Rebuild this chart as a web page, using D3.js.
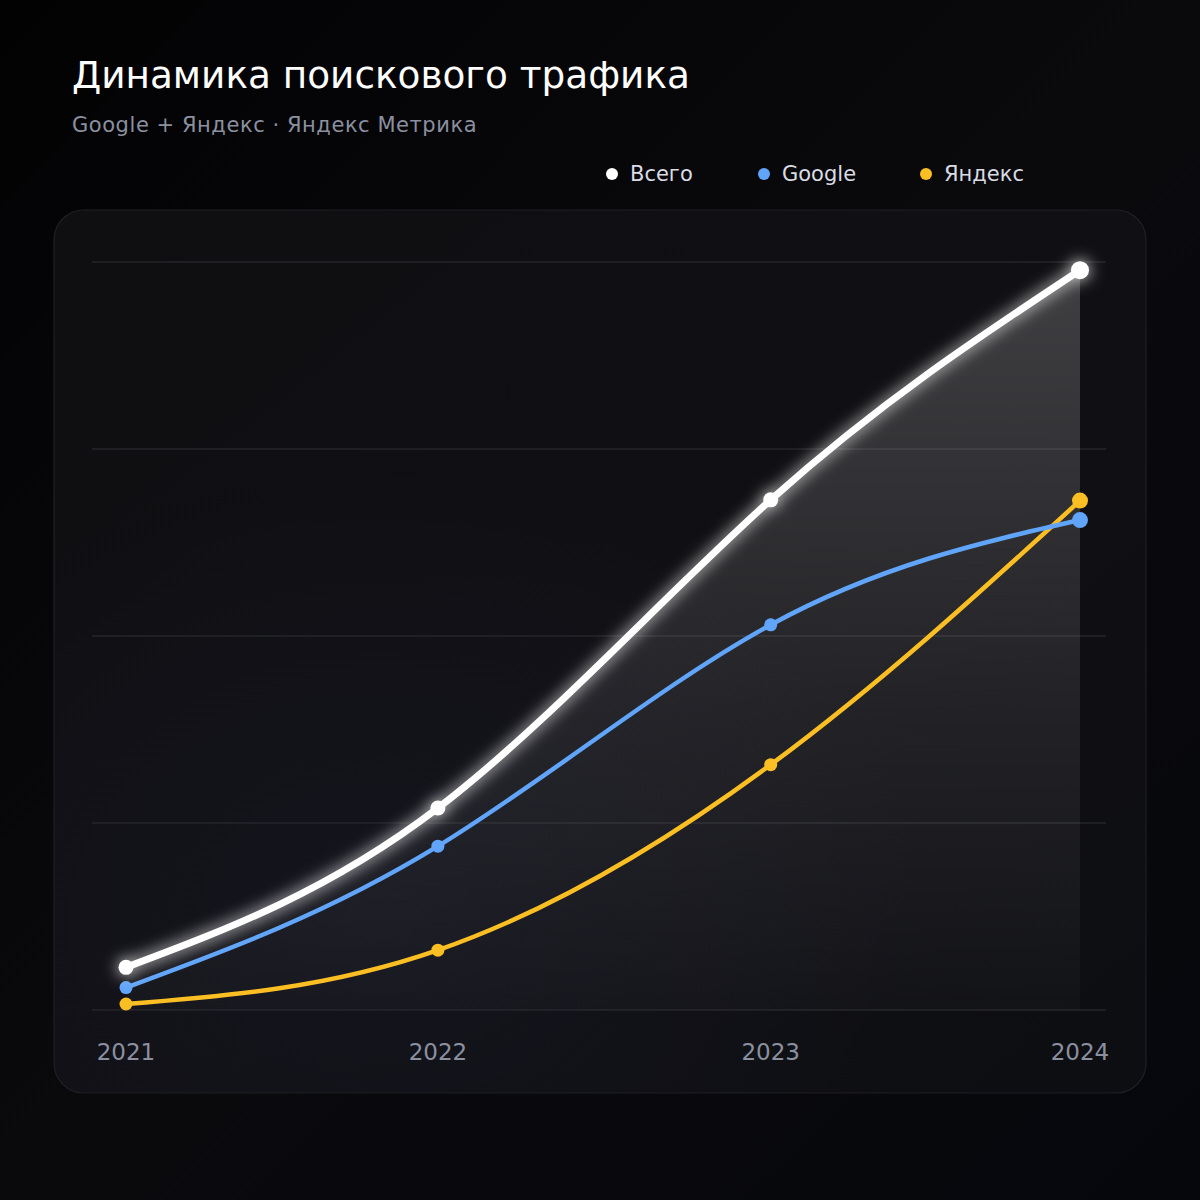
<!DOCTYPE html>
<html>
<head>
<meta charset="utf-8">
<script src="https://cdn.jsdelivr.net/npm/d3@7"></script>
<style>
  html, body { margin: 0; padding: 0; background: #050507; }
  svg { display: block; }
</style>
</head>
<body>
<div id="chart"></div>
<script>
// ---- data ----
const periods = ["2021-01-01", "2021-12-25", "2023-01-11", "2024-01-01"];
const periodLabels = ["2021", "2022", "2023", "2024"];
const totalValues = [5.7, 27.0, 68.2, 98.9];
const googleValues = [3.0, 21.9, 51.5, 65.5];
const yandexValues = [0.8, 8.0, 32.8, 68.1];
const seriesNames = ["Всего", "Google", "Яндекс"];
const yGridValues = [0, 25, 50, 75, 100];

const titleText = "Динамика поискового трафика";
const subtitleText = "Google + Яндекс · Яндекс Метрика";

// ---- setup ----
const W = 1200, H = 1200;
const font = "'DejaVu Sans', Verdana, sans-serif";
const colors = { "Всего": "#ffffff", "Google": "#60a5fa", "Яндекс": "#fbbf24" };

const svg = d3.select("#chart").append("svg")
  .attr("width", W).attr("height", H)
  .attr("viewBox", `0 0 ${W} ${H}`);

const defs = svg.append("defs");

const bg = defs.append("linearGradient").attr("id", "bg")
  .attr("x1", "0").attr("y1", "0").attr("x2", "1").attr("y2", "1");
bg.append("stop").attr("offset", "0").attr("stop-color", "#020203");
bg.append("stop").attr("offset", "0.5").attr("stop-color", "#0a0a0d");
bg.append("stop").attr("offset", "1").attr("stop-color", "#06070c");

const panelGrad = defs.append("linearGradient").attr("id", "panelGrad")
  .attr("x1", "0").attr("y1", "0").attr("x2", "1").attr("y2", "1");
panelGrad.append("stop").attr("offset", "0").attr("stop-color", "#0f0f12");
panelGrad.append("stop").attr("offset", "0.55").attr("stop-color", "#101014");
panelGrad.append("stop").attr("offset", "1").attr("stop-color", "#0d0e12");

const panelGlow = defs.append("radialGradient").attr("id", "panelGlow")
  .attr("cx", "0.3").attr("cy", "0.8").attr("r", "0.5");
panelGlow.append("stop").attr("offset", "0").attr("stop-color", "#1a1d2b").attr("stop-opacity", 0.4);
panelGlow.append("stop").attr("offset", "1").attr("stop-color", "#1a1d2b").attr("stop-opacity", 0);

const areaGrad = defs.append("linearGradient").attr("id", "areaGrad")
  .attr("gradientUnits", "userSpaceOnUse")
  .attr("x1", 0).attr("y1", 262).attr("x2", 0).attr("y2", 1010);
areaGrad.append("stop").attr("offset", "0").attr("stop-color", "#ffffff").attr("stop-opacity", 0.2);
areaGrad.append("stop").attr("offset", "0.6").attr("stop-color", "#ffffff").attr("stop-opacity", 0.08);
areaGrad.append("stop").attr("offset", "1").attr("stop-color", "#ffffff").attr("stop-opacity", 0.02);

const glow = defs.append("filter").attr("id", "glow")
  .attr("x", "-20%").attr("y", "-20%").attr("width", "140%").attr("height", "140%");
glow.append("feGaussianBlur").attr("in", "SourceGraphic").attr("stdDeviation", 8).attr("result", "b");
const merge = glow.append("feMerge");
merge.append("feMergeNode").attr("in", "b");
merge.append("feMergeNode").attr("in", "SourceGraphic");

svg.append("rect").attr("width", W).attr("height", H).attr("fill", "url(#bg)");

// Title
svg.append("text").attr("x", 72).attr("y", 88)
  .attr("font-family", font).attr("font-size", 37.4).attr("fill", "#ffffff")
  .text(titleText);
svg.append("text").attr("x", 72).attr("y", 132)
  .attr("font-family", font).attr("font-size", 21).attr("letter-spacing", 0.55)
  .attr("fill", "#8b90a0")
  .text(subtitleText);

// Legend
const legendX = [612, 764, 926];
const legend = svg.append("g");
seriesNames.forEach((name, i) => {
  legend.append("circle").attr("cx", legendX[i]).attr("cy", 174).attr("r", 6)
    .attr("fill", colors[name]);
  legend.append("text").attr("x", legendX[i] + 18).attr("y", 181)
    .attr("font-family", font).attr("font-size", 21).attr("fill", "#d9dce3")
    .text(name);
});

// Panel
svg.append("rect").attr("x", 54).attr("y", 210).attr("width", 1092).attr("height", 883)
  .attr("rx", 30).attr("fill", "url(#panelGrad)").attr("stroke", "#1f1f25").attr("stroke-width", 1.2);
svg.append("rect").attr("x", 54).attr("y", 210).attr("width", 1092).attr("height", 883)
  .attr("rx", 30).attr("fill", "url(#panelGlow)");

// Scales
const parse = d3.timeParse("%Y-%m-%d");
const dates = periods.map(parse);
const x = d3.scaleTime().domain(d3.extent(dates)).range([126, 1080]);
const y = d3.scaleLinear().domain([0, 100]).range([1010, 262]);

// Grid
svg.append("g").selectAll("line").data(yGridValues).join("line")
  .attr("x1", 92).attr("x2", 1106)
  .attr("y1", d => y(d)).attr("y2", d => y(d))
  .attr("stroke", "#24242a").attr("stroke-width", 1.3);

// X labels
svg.append("g").selectAll("text").data(dates).join("text")
  .attr("x", d => x(d)).attr("y", 1060)
  .attr("text-anchor", "middle")
  .attr("font-family", font).attr("font-size", 23).attr("fill", "#8b90a0")
  .text((d, i) => periodLabels[i]);

const series = [
  { name: "Всего", values: totalValues, width: 7, r: 7.5, rLast: 9 },
  { name: "Google", values: googleValues, width: 4.5, r: 6.5, rLast: 8 },
  { name: "Яндекс", values: yandexValues, width: 4.5, r: 6.5, rLast: 8 }
];

const curve = d3.curveNatural;

// Area under total
const area = d3.area()
  .x((d, i) => x(dates[i])).y0(y(0)).y1(d => y(d)).curve(curve);
svg.append("path").datum(totalValues).attr("d", area).attr("fill", "url(#areaGrad)");

const line = d3.line().x((d, i) => x(dates[i])).y(d => y(d)).curve(curve);

// Draw yandex, google, total (total on top)
[series[2], series[1], series[0]].forEach(s => {
  const g = svg.append("g");
  if (s.name === "Всего") g.attr("filter", "url(#glow)");
  g.append("path").datum(s.values).attr("d", line)
    .attr("fill", "none").attr("stroke", colors[s.name])
    .attr("stroke-width", s.width).attr("stroke-linecap", "round");
  g.selectAll("circle").data(s.values).join("circle")
    .attr("cx", (d, i) => x(dates[i])).attr("cy", d => y(d))
    .attr("r", (d, i) => i === s.values.length - 1 ? s.rLast : s.r)
    .attr("fill", colors[s.name]);
});
</script>
</body>
</html>
